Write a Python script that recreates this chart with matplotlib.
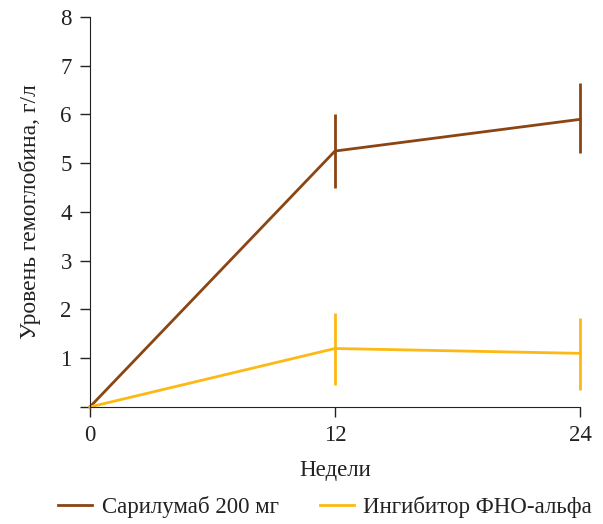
import numpy as np
import matplotlib.pyplot as plt

weeks = [0, 12, 24]
sari = [0, 5.25, 5.9]
sari_lo = [0, 4.5, 5.2]
sari_hi = [0, 6.0, 6.65]
tnf = [0, 1.2, 1.1]
tnf_lo = [0, 0.45, 0.35]
tnf_hi = [0, 1.93, 1.82]
labels = ['Сарилумаб 200 мг', 'Ингибитор ФНО-альфа']

plt.rcParams['font.family'] = ['Liberation Serif', 'DejaVu Serif']

fig = plt.figure(figsize=(6.03, 5.24), dpi=100)
ax = fig.add_axes([0.149, 0.2233, 0.813, 0.7443])

c1 = '#8b4513'
c2 = '#fdb913'
for y, lo, hi, c, lab in [(sari, sari_lo, sari_hi, c1, labels[0]),
                          (tnf, tnf_lo, tnf_hi, c2, labels[1])]:
    y = np.array(y)
    err = [y - np.array(lo), np.array(hi) - y]
    eb = ax.errorbar(weeks[1:], y[1:], yerr=[err[0][1:], err[1][1:]], fmt='none',
                     ecolor=c, elinewidth=2, capsize=0)
    for art in eb.lines[2]:
        art.set_clip_on(False)
    ax.plot(weeks, y, color=c, lw=2, label=lab, clip_on=False)

ax.set_xlim(0, 24)
ax.set_ylim(0, 8)
ax.set_xticks([0, 12, 24])
ax.set_yticks(range(0, 9))
ax.set_yticklabels([''] + [str(i) for i in range(1, 9)])
ax.tick_params(labelsize=16.5, length=7, width=1, colors='#222222', pad=6)
for s in ['top', 'right']:
    ax.spines[s].set_visible(False)
for s in ['left', 'bottom']:
    ax.spines[s].set_color('#222222')
ax.set_xlabel('Недели', fontsize=16.5, color='#222222', labelpad=10)
ax.set_ylabel('Уровень гемоглобина, г/л', fontsize=17, color='#222222', labelpad=14)

ax.legend(loc='center', bbox_to_anchor=(0.48, -0.256), ncol=2, frameon=False,
          fontsize=16.5, handlelength=1.5, handletextpad=0.4, columnspacing=1.8,
          labelcolor='#222222')

fig.savefig('out.png', dpi=100)
